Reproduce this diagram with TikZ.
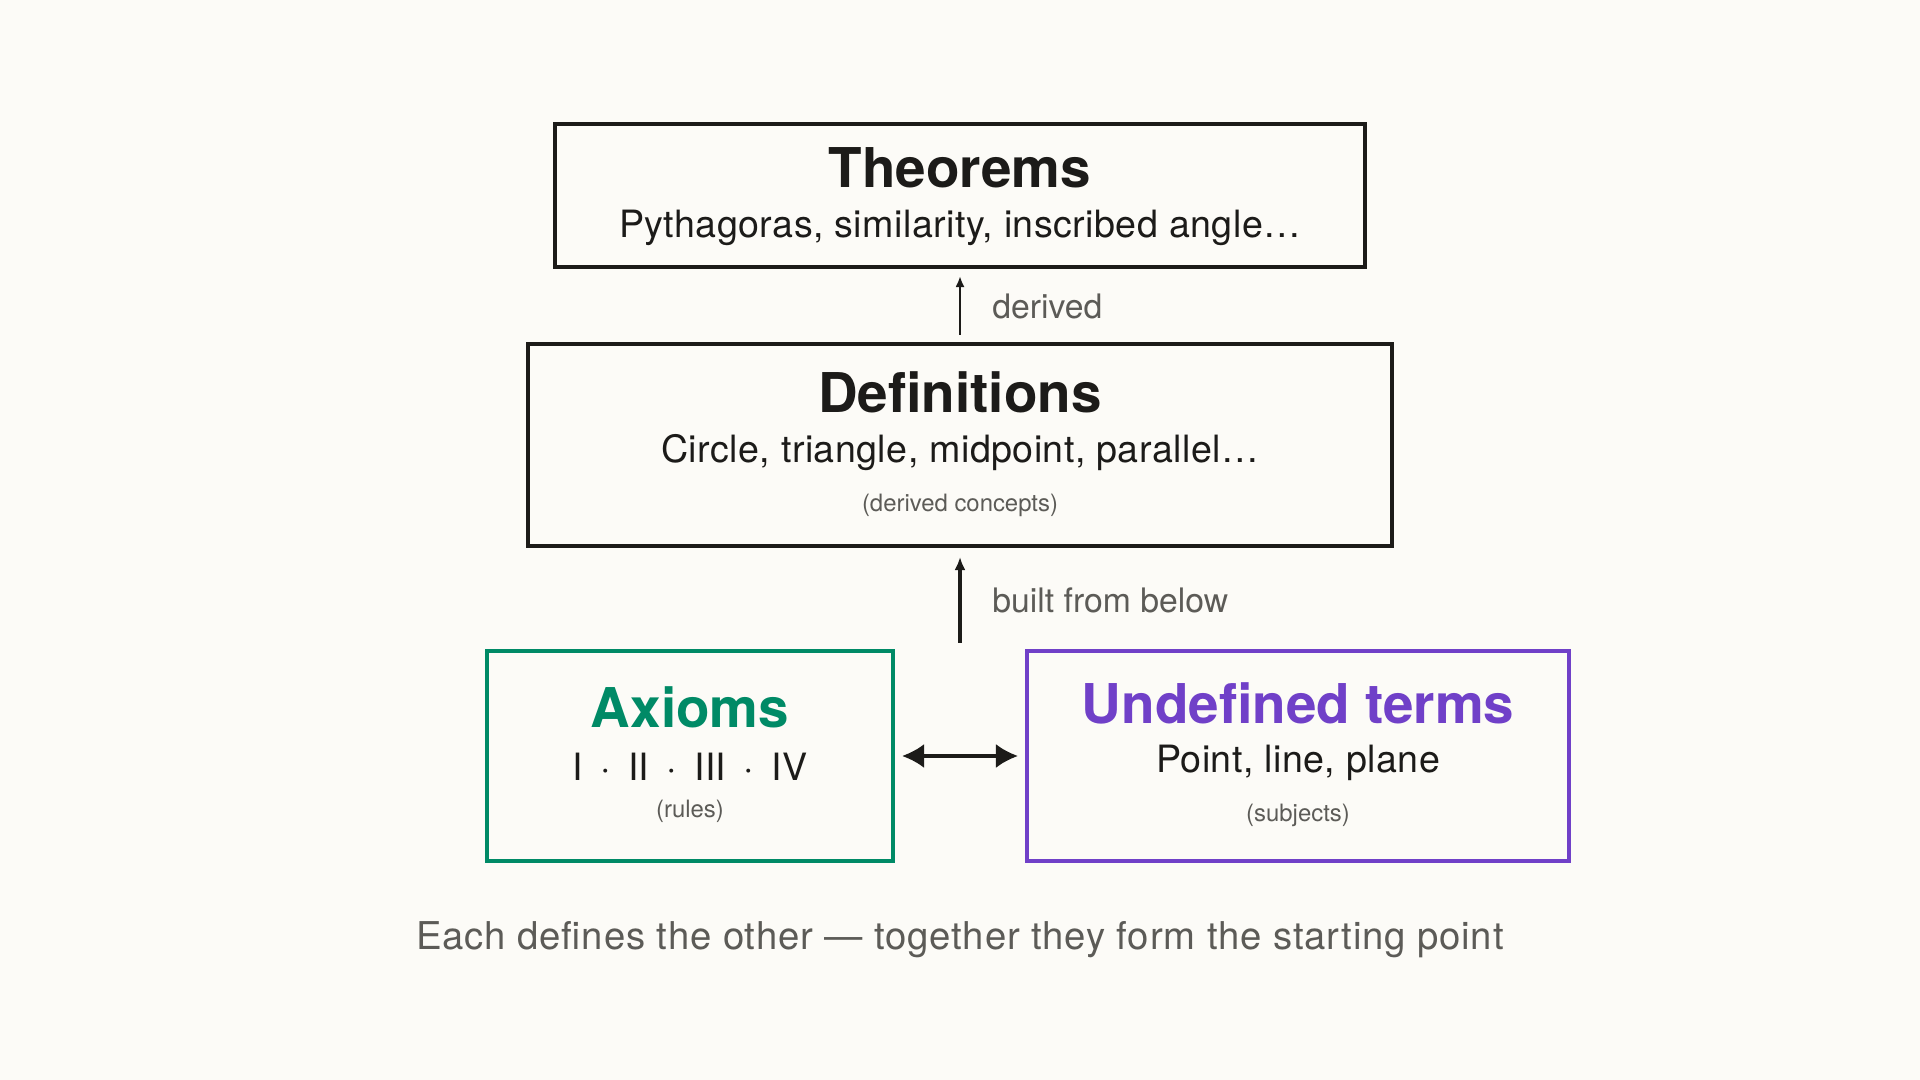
\documentclass[tikz,border=0pt]{standalone}
\usepackage{fontspec}
\setmainfont{TeX Gyre Heros}
\usepackage{xcolor}
\usetikzlibrary{arrows.meta, positioning}
\definecolor{kpaper}{HTML}{FCFBF7}
\definecolor{kink}{HTML}{1C1B19}
\definecolor{kgreen}{HTML}{008A66}
\definecolor{kpurple}{HTML}{7040C8}
\definecolor{kgray}{HTML}{5C5B57}

\tikzset{
  frame/.style={draw=#1, line width=1.15pt, inner sep=0pt},
  frame/.default=kink,
  headtxt/.style={font=\fontsize{15.6}{18}\selectfont\bfseries, text=#1},
  headtxt/.default=kink,
  subtxt/.style={font=\fontsize{10.7}{12}\selectfont\addfontfeature{LetterSpace=1.2}, text=kink},
  notetxt/.style={font=\fontsize{6.8}{8}\selectfont, text=kgray},
  edgetxt/.style={font=\fontsize{9.6}{11}\selectfont, text=kgray, anchor=west},
}

\begin{document}
\begin{tikzpicture}[x=1cm, y=1cm]

  %% Background
  \fill[kpaper] (0,0) rectangle (19.2,10.8);
  \useasboundingbox (0,0) rectangle (19.2,10.8);

  %% Theorems
  \node[frame, minimum width=8.10cm, minimum height=1.43cm] (thm) at (9.6,8.845) {};
  \node[headtxt] (thmhead) at (9.6,9.12) {Theorems};
  \node[subtxt] (thmsub) at (9.6,8.52) {Pythagoras, similarity, inscribed angle\ldots};

  %% Definitions
  \node[frame, minimum width=8.64cm, minimum height=2.02cm] (def) at (9.6,6.35) {};
  \node[headtxt] (defhead) at (9.6,6.88) {Definitions};
  \node[subtxt] (defsub) at (9.6,6.27) {Circle, triangle, midpoint, parallel\ldots};
  \node[notetxt] (defnote) at (9.6,5.75) {(derived concepts)};

  %% Axioms
  \node[frame=kgreen, minimum width=4.06cm, minimum height=2.10cm] (ax) at (6.90,3.24) {};
  \node[headtxt=kgreen] (axhead) at (6.90,3.73) {Axioms};
  \node[subtxt] (axsub) at (6.90,3.13) {I \,·\, II \,·\, III \,·\, IV};
  \node[notetxt] (axnote) at (6.90,2.69) {(rules)};

  %% Undefined terms
  \node[frame=kpurple, minimum width=5.42cm, minimum height=2.10cm] (und) at (12.98,3.24) {};
  \node[headtxt=kpurple] (undhead) at (12.98,3.77) {Undefined terms};
  \node[subtxt] (undsub) at (12.98,3.17) {Point, line, plane};
  \node[notetxt] (undnote) at (12.98,2.65) {(subjects)};

  %% Connectors
  \draw[kink, line width=0.7pt, -{Latex[length=0.11cm, width=0.09cm]},
    shorten <=0.07cm, shorten >=0.07cm] (def.north) -- (thm.south);
  \node[edgetxt] (derlbl) at (9.80,7.74) {derived};

  \coordinate (base) at (9.6,4.37);
  \draw[kink, line width=1pt, -{Latex[length=0.13cm, width=0.11cm]},
    shorten >=0.09cm] (base) -- (def.south);
  \node[edgetxt] (bltlbl) at (9.80,4.80) {built from below};

  \draw[kink, line width=0.9pt, {Latex[length=0.22cm, width=0.24cm]}-{Latex[length=0.22cm, width=0.24cm]},
    shorten <=0.07cm, shorten >=0.07cm] (ax.east) -- (und.west);

  %% Caption
  \node[font=\fontsize{10.9}{12}\selectfont\addfontfeature{LetterSpace=2.2}, text=kgray] (cap) at (9.6,1.40)
    {Each defines the other — together they form the starting point};

\end{tikzpicture}
\end{document}
